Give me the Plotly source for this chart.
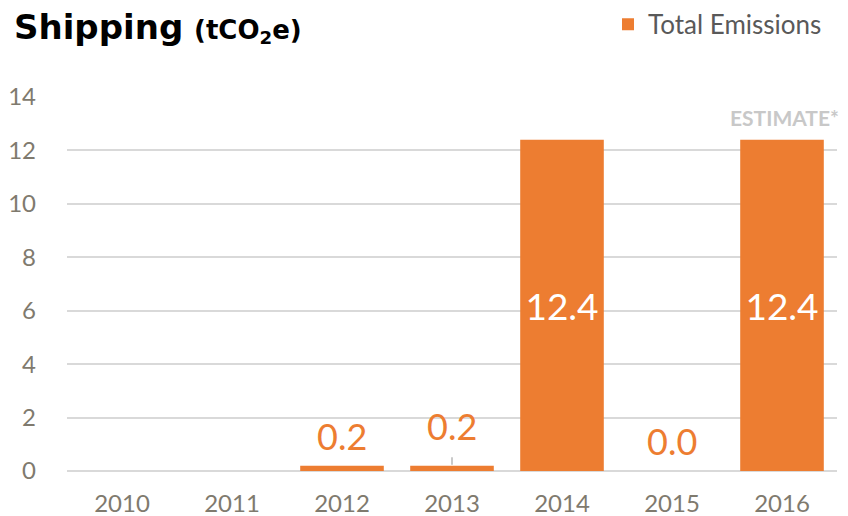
import plotly.graph_objects as go

years = [2010, 2011, 2012, 2013, 2014, 2015, 2016]
year_labels = ["2010", "2011", "2012", "2013", "2014", "2015", "2016"]
emissions = [None, None, 0.2, 0.2, 12.4, 0.0, 12.4]
y_ticks = [0, 2, 4, 6, 8, 10, 12, 14]

ORANGE = "#ED7D31"
TICK = "#7F7A6E"
FONT = "Lato"

inside_text = [f"{v:.1f}" if (v is not None and v > 5) else "" for v in emissions]

fig = go.Figure()
fig.add_trace(go.Bar(
    x=years, y=emissions, name="Total Emissions", width=0.76,
    marker=dict(color=ORANGE, line=dict(width=0)),
    text=inside_text, textposition="inside", insidetextanchor="middle",
    textfont=dict(color="white", size=37, family=FONT),
))

# small-value labels
for yr, v in zip(years, emissions):
    if v is None or v > 5:
        continue
    if yr == 2013:
        fig.add_annotation(x=yr, y=v, text=f"{v:.1f}", showarrow=True,
                           arrowhead=0, arrowwidth=1.2, arrowcolor="#A6A6A6",
                           ax=0, ay=-40, startstandoff=8, standoff=1,
                           font=dict(color=ORANGE, size=36, family=FONT))
    else:
        fig.add_annotation(x=yr, y=v, text=f"{v:.1f}", showarrow=False,
                           yshift=30, font=dict(color=ORANGE, size=36, family=FONT))

fig.add_annotation(x=years[-1], y=emissions[-1], text="<b>ESTIMATE*</b>", showarrow=False,
                   yshift=22, xshift=2, font=dict(color="#C8C8C8", size=21, family=FONT))

fig.add_annotation(xref="paper", yref="paper", x=-0.072, y=1.185, xanchor="left", yanchor="middle",
                   text="<b>Shipping</b> <span style='font-size:26px'><b>(tCO<sub>2</sub>e)</b></span>",
                   showarrow=False, font=dict(color="black", size=34, family="DejaVu Sans"))

fig.update_layout(
    width=840, height=508,
    margin=dict(l=59, r=11, t=89, b=45, autoexpand=False),
    paper_bgcolor="white", plot_bgcolor="white",
    showlegend=True,
    legend=dict(xref="container", yref="container", x=0.975, xanchor="right",
                y=0.968, yanchor="middle", orientation="h",
                font=dict(color="#595959", size=26, family=FONT),
                itemwidth=30, bgcolor="rgba(0,0,0,0)"),
    xaxis=dict(range=[2009.5, 2016.5], tickvals=years, ticktext=year_labels,
               showgrid=False, showline=False, ticks="", zeroline=False,
               tickfont=dict(color=TICK, size=24, family=FONT), ticklabelstandoff=16),
    yaxis=dict(range=[0, 14], tickvals=y_ticks, showgrid=True, gridcolor="#D9D9D9",
               gridwidth=1.5, zeroline=True, zerolinecolor="#D9D9D9", zerolinewidth=1.5,
               showline=False, ticks="",
               tickfont=dict(color=TICK, size=24, family=FONT), ticklabelstandoff=30),
)

fig.write_html("out.html")
